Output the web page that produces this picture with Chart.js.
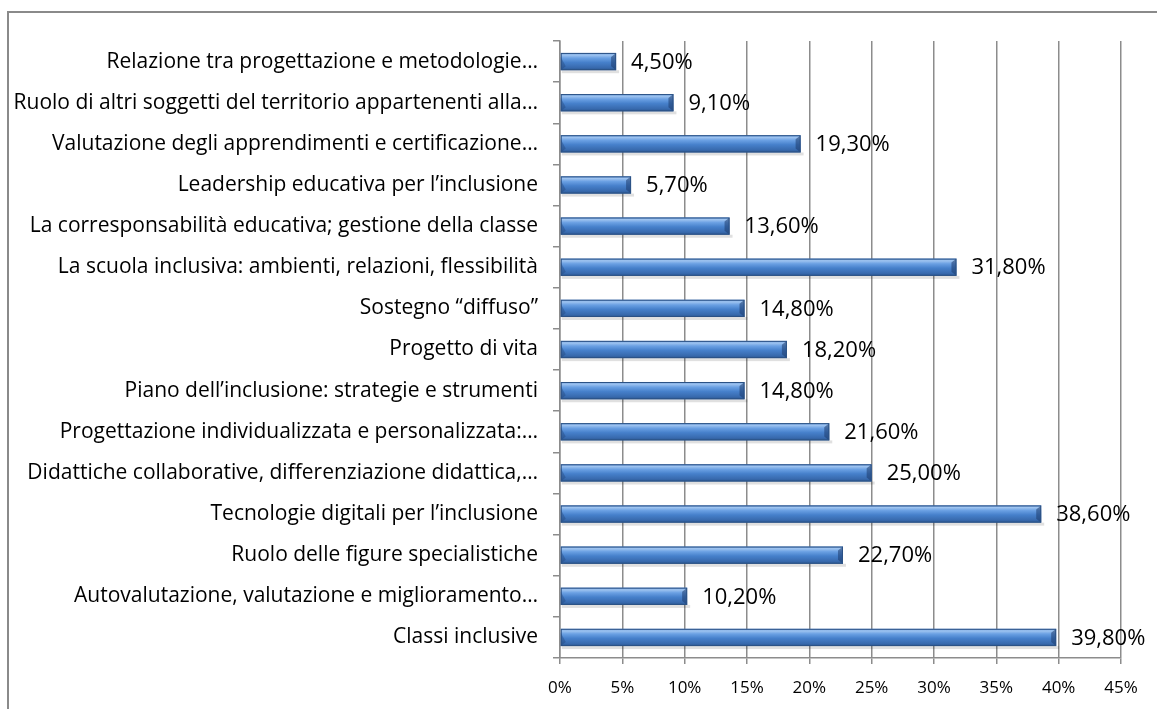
<!DOCTYPE html>
<html>
<head>
<meta charset="utf-8">
<script src="https://cdn.jsdelivr.net/npm/chart.js@4.4.1/dist/chart.umd.min.js"></script>
<style>
html,body{margin:0;padding:0;background:#fff;}
#wrap{width:1157px;height:709px;position:relative;}
</style>
</head>
<body>
<div id="wrap"><canvas id="c" width="1157" height="709"></canvas></div>
<script>
const categories = [
  "Relazione tra progettazione e metodologie…",
  "Ruolo di altri soggetti del territorio appartenenti alla…",
  "Valutazione degli apprendimenti e certificazione…",
  "Leadership educativa per l’inclusione",
  "La corresponsabilità educativa; gestione della classe",
  "La scuola inclusiva: ambienti, relazioni, flessibilità",
  "Sostegno “diffuso”",
  "Progetto di vita",
  "Piano dell’inclusione: strategie e strumenti",
  "Progettazione individualizzata e personalizzata:…",
  "Didattiche collaborative, differenziazione didattica,…",
  "Tecnologie digitali per l’inclusione",
  "Ruolo delle figure specialistiche",
  "Autovalutazione, valutazione e miglioramento…",
  "Classi inclusive"
];
const values = [4.5, 9.1, 19.3, 5.7, 13.6, 31.8, 14.8, 18.2, 14.8, 21.6, 25.0, 38.6, 22.7, 10.2, 39.8];
const xTicks = [0, 5, 10, 15, 20, 25, 30, 35, 40, 45];

const FONT = "'Open Sans', sans-serif";

const framePlugin = {
  id: 'frame',
  beforeDraw(chart) {
    const ctx = chart.ctx;
    ctx.save();
    ctx.fillStyle = '#fff';
    ctx.fillRect(0, 0, chart.width, chart.height);
    ctx.strokeStyle = '#8a8a8a';
    ctx.lineWidth = 2;
    ctx.beginPath();
    ctx.moveTo(8, 709);
    ctx.lineTo(8, 12);
    ctx.lineTo(1157, 12);
    ctx.stroke();
    ctx.restore();
  }
};

const barPlugin = {
  id: 'bars3d',
  afterDatasetsDraw(chart) {
    const ctx = chart.ctx;
    const meta = chart.getDatasetMeta(0);
    meta.data.forEach((bar, i) => {
      const p = bar.getProps(['x', 'y', 'base', 'height'], true);
      const x0 = p.base, x1 = p.x;
      const h = p.height;
      const y0 = p.y - h / 2, y1 = p.y + h / 2;
      ctx.save();
      ctx.fillStyle = 'rgba(0,0,0,0.12)';
      ctx.fillRect(x0 + 1, y1, x1 - x0 + 2, 3);
      const g = ctx.createLinearGradient(0, y0, 0, y1);
      g.addColorStop(0, '#5f93d6');
      g.addColorStop(0.12, '#9fc4f0');
      g.addColorStop(0.3, '#6aa0e3');
      g.addColorStop(0.55, '#4680cb');
      g.addColorStop(0.85, '#386aae');
      g.addColorStop(1, '#2b5791');
      ctx.fillStyle = g;
      ctx.fillRect(x0, y0, x1 - x0, h);
      ctx.fillStyle = 'rgba(30,60,110,0.55)';
      ctx.beginPath();
      ctx.moveTo(x1 - 5, y0 + 4);
      ctx.lineTo(x1, y0);
      ctx.lineTo(x1, y1);
      ctx.lineTo(x1 - 5, y1 - 4);
      ctx.closePath();
      ctx.fill();
      ctx.fillStyle = 'rgba(30,60,110,0.35)';
      ctx.beginPath();
      ctx.moveTo(x0, y0 + 4);
      ctx.lineTo(x0 + 5, y1 - 4);
      ctx.lineTo(x0, y1);
      ctx.closePath();
      ctx.fill();
      ctx.strokeStyle = '#2c5285';
      ctx.lineWidth = 1;
      ctx.strokeRect(x0 + 0.5, y0 + 0.5, x1 - x0 - 1, h - 1);
      ctx.fillStyle = '#000';
      ctx.font = "22px " + FONT;
      ctx.textAlign = 'left';
      ctx.textBaseline = 'middle';
      const txt = values[i].toFixed(2).replace('.', ',') + '%';
      ctx.fillText(txt, x1 + 15, p.y + 1);
      ctx.restore();
    });
  }
};

new Chart(document.getElementById('c'), {
  type: 'bar',
  data: {
    labels: categories,
    datasets: [{
      data: values,
      backgroundColor: 'rgba(0,0,0,0)',
      borderWidth: 0,
      barPercentage: 0.42,
      categoryPercentage: 1
    }]
  },
  options: {
    indexAxis: 'y',
    responsive: false,
    animation: false,
    devicePixelRatio: 1,
    layout: { padding: { left: 0, right: 36, top: 41, bottom: 0 } },
    plugins: { legend: { display: false }, tooltip: { enabled: false } },
    scales: {
      x: {
        min: 0, max: 45,
        afterBuildTicks(scale) { scale.ticks = xTicks.map(v => ({ value: v })); },
        afterFit(scale) { scale.height = 51; },
        grid: { color: '#8c8c8c', lineWidth: 1.5, tickLength: 6, drawTicks: true },
        border: { color: '#8c8c8c', width: 1.5 },
        ticks: {
          color: '#000', font: { family: FONT, size: 17 }, padding: 14,
          callback: v => v + '%'
        }
      },
      y: {
        afterFit(scale) { scale.width = 560; },
        grid: { display: true, drawOnChartArea: false, offset: true, color: '#8c8c8c', lineWidth: 1.5, tickLength: 7 },
        border: { color: '#8c8c8c', width: 1.5 },
        ticks: { color: '#000', font: { family: FONT, size: 21 }, padding: 15, autoSkip: false }
      }
    }
  },
  plugins: [framePlugin, barPlugin]
});
</script>
</body>
</html>
